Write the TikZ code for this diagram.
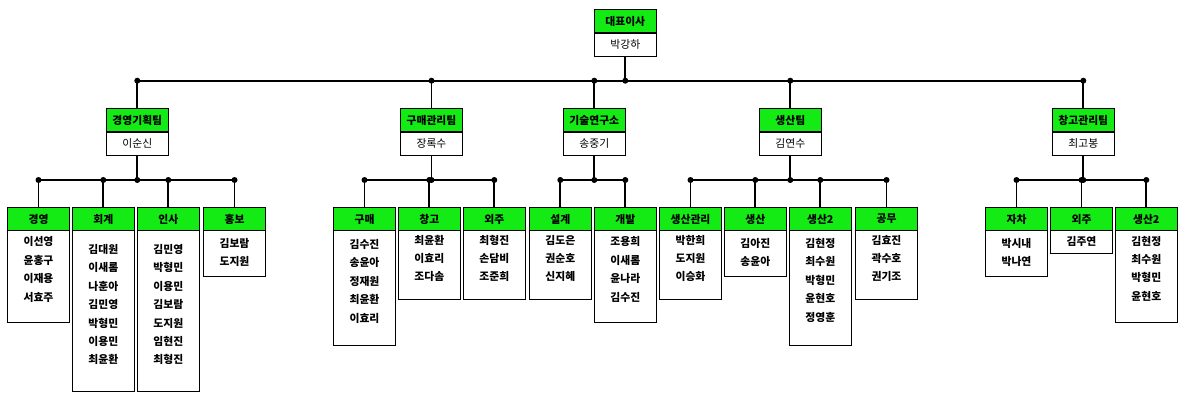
\documentclass[tikz,border=0pt]{standalone}
\usepackage{fontspec}
\newfontfamily\kr{Noto Sans CJK KR}
\definecolor{grn}{RGB}{20,235,20}
\tikzset{
  hdr/.style={draw=black, line width=0.9pt, fill=grn, minimum width=62pt, minimum height=23.4pt, inner sep=0pt, font=\kr\bfseries\fontsize{10.8}{12}\selectfont},
  namebox/.style={draw=black, line width=0.9pt, fill=white, minimum width=62pt, minimum height=22.6pt, inner sep=0pt, font=\kr\fontsize{10.8}{12}\selectfont},
  body/.style={draw=black, line width=0.9pt, fill=white, minimum width=62pt, inner sep=0pt},
  members/.style={text width=60pt, align=center, inner sep=0pt, anchor=base, font=\kr\bfseries\fontsize{10.8}{18.4}\selectfont},
  conn/.style={line width=1.8pt},
}
\newcommand\unitbox[6]{%
  \node[hdr] (#1) at (#2,219) {#3};
  \pgfmathsetmacro\bh{#4-230.7}%
  \pgfmathsetmacro\bc{(230.7+#4)/2}%
  \node[body, minimum height=\bh pt] (#1b) at (#2,\bc) {};
  \pgfmathsetmacro\fb{#5+4.1}%
  \node[members] (#1t) at (#2,\fb) {#6};
}
\newcommand\teambox[4]{%
  \node[hdr] (#1) at (#2,120) {#3};
  \node[namebox, anchor=north] (#1n) at (#1.south) {#4};
}
\newcommand\kid[2]{%
  \draw[conn] (#1.north) -- (#1.north |- #2);
  \fill (#1.north |- #2) circle (3pt);
}
\begin{document}
\begin{tikzpicture}[x=1pt,y=-1pt]
\useasboundingbox[fill=white] (0,0) rectangle (1188,401);
% CEO
\node[hdr] (ceo) at (625.3,21) {대표이사};
\node[namebox, anchor=north] (ceon) at (ceo.south) {박강하};
% teams
\teambox{t1}{137.3}{경영기획팀}{이순신}
\teambox{t2}{431.5}{구매관리팀}{장록수}
\teambox{t3}{594.3}{기술연구소}{송중기}
\teambox{t4}{790.3}{생산팀}{김연수}
\teambox{t5}{1083.3}{창고관리팀}{최고봉}
% units
\unitbox{b1}{38.5}{경영}{322.3}{241.7}{이선영\\윤홍구\\이재용\\서효주}
\unitbox{b2}{103.3}{회계}{391.3}{249.3}{김대원\\이새롬\\나훈아\\김민영\\박형민\\이용민\\최윤환}
\unitbox{b3}{168.3}{인사}{391.3}{249.3}{김민영\\박형민\\이용민\\김보람\\도지원\\임현진\\최형진}
\unitbox{b4}{234.5}{홍보}{276.3}{243.3}{김보람\\도지원}
\unitbox{b5}{364.5}{구매}{345.3}{244.3}{김수진\\송윤아\\정재원\\최윤환\\이효리}
\unitbox{b6}{429.3}{창고}{299}{240}{최윤환\\이효리\\조다솜}
\unitbox{b7}{494.3}{외주}{299}{240}{최형진\\손담비\\조준희}
\unitbox{b8}{560.3}{설계}{299}{240}{김도은\\권순호\\신지혜}
\unitbox{b9}{625.3}{개발}{322.3}{241.7}{조용희\\이새롬\\윤나라\\김수진}
\unitbox{b10}{690.5}{생산관리}{299}{240}{박한희\\도지원\\이승화}
\unitbox{b11}{755.3}{생산}{276.3}{243.3}{김아진\\송윤아}
\unitbox{b12}{820.3}{생산2}{345.3}{243.3}{김현정\\최수원\\박형민\\윤현호\\정영훈}
\unitbox{b13}{886.5}{공무}{299}{240}{김효진\\곽수호\\권기조}
\unitbox{b14}{1016.5}{자차}{276.3}{243.3}{박시내\\박나연}
\unitbox{b15}{1081.5}{외주}{253.3}{241.7}{김주연}
\unitbox{b16}{1146.3}{생산2}{322.3}{241}{김현정\\최수원\\박형민\\윤현호}
% main bus
\coordinate (m) at (0,80.7);
\draw[conn] (t1.north |- m) -- (t5.north |- m);
\draw[conn] (ceon.south) -- (ceon.south |- m);
\fill (ceon.south |- m) circle (3pt);
\kid{t1}{m}\kid{t2}{m}\kid{t3}{m}\kid{t4}{m}\kid{t5}{m}
% sub buses
\coordinate (s) at (0,180);
\draw[conn] (t1n.south) -- (t1n.south |- s);
\draw[conn] (b1.north |- s) -- (b4.north |- s);
\fill (t1n.south |- s) circle (3pt);
\kid{b1}{s}\kid{b2}{s}\kid{b3}{s}\kid{b4}{s}
\draw[conn] (t2n.south) -- (t2n.south |- s);
\draw[conn] (b5.north |- s) -- (b7.north |- s);
\fill (t2n.south |- s) circle (3pt);
\kid{b5}{s}\kid{b6}{s}\kid{b7}{s}
\draw[conn] (t3n.south) -- (t3n.south |- s);
\draw[conn] (b8.north |- s) -- (b9.north |- s);
\fill (t3n.south |- s) circle (3pt);
\kid{b8}{s}\kid{b9}{s}
\draw[conn] (t4n.south) -- (t4n.south |- s);
\draw[conn] (b10.north |- s) -- (b13.north |- s);
\fill (t4n.south |- s) circle (3pt);
\kid{b10}{s}\kid{b11}{s}\kid{b12}{s}\kid{b13}{s}
\draw[conn] (t5n.south) -- (t5n.south |- s);
\draw[conn] (b14.north |- s) -- (b16.north |- s);
\fill (t5n.south |- s) circle (3pt);
\kid{b14}{s}\kid{b15}{s}\kid{b16}{s}
\end{tikzpicture}
\end{document}
